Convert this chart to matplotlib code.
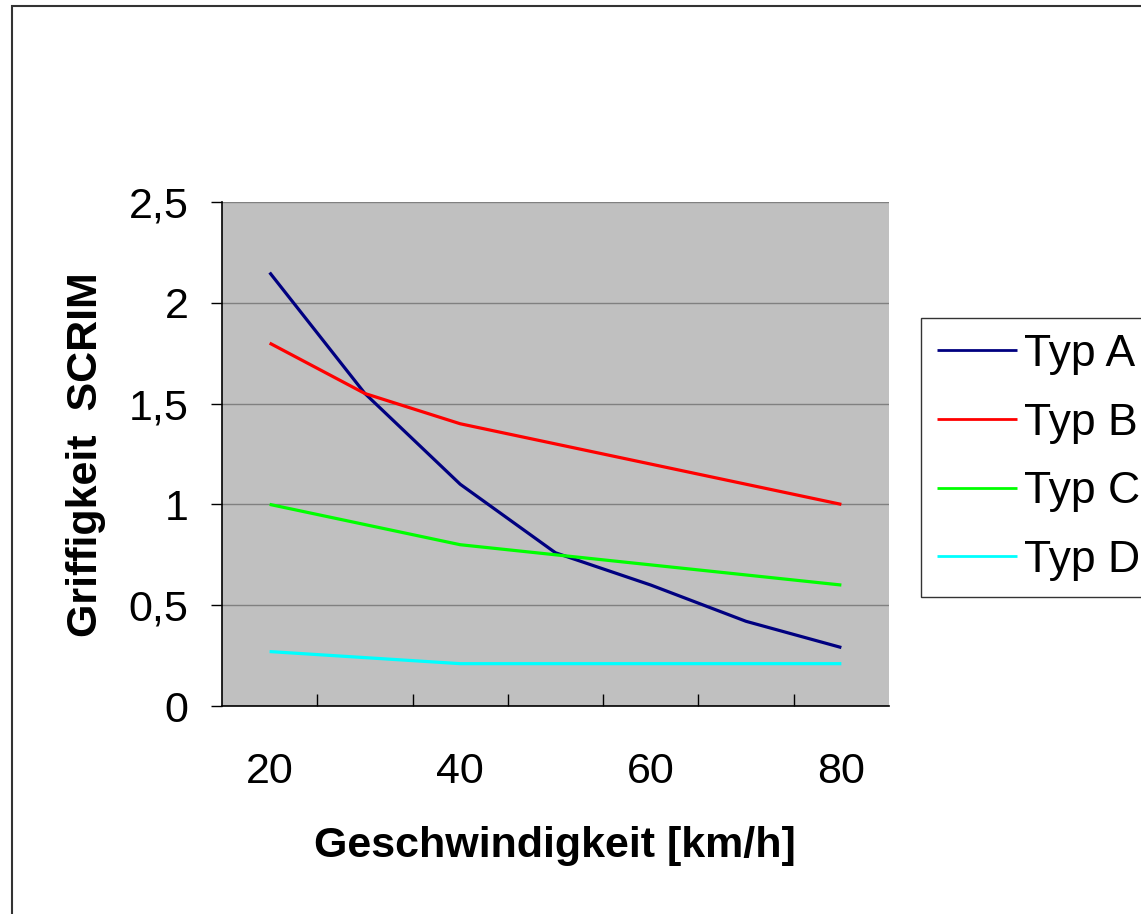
import matplotlib
matplotlib.use("Agg")
import matplotlib.pyplot as plt
from matplotlib.patches import Rectangle

plt.rcParams['font.family'] = ['Liberation Sans', 'DejaVu Sans']

# data (speed categories in km/h)
speeds = [20, 30, 40, 50, 60, 70, 80]
typ_a = [2.15, 1.55, 1.10, 0.76, 0.60, 0.42, 0.29]
typ_b = [1.80, 1.55, 1.40, 1.30, 1.20, 1.10, 1.00]
typ_c = [1.00, 0.90, 0.80, 0.75, 0.70, 0.65, 0.60]
typ_d = [0.27, 0.24, 0.21, 0.21, 0.21, 0.21, 0.21]
series_names = ['Typ A', 'Typ B', 'Typ C', 'Typ D']
colors = ['#000080', '#FF0000', '#00FF00', '#00FFFF']
y_ticks = [0, 0.5, 1, 1.5, 2, 2.5]
y_ticklabels = ['0', '0,5', '1', '1,5', '2', '2,5']
x_labelled = [20, 40, 60, 80]

fig = plt.figure(figsize=(11.41, 9.14), dpi=100)
ax = fig.add_axes([222/1141, 1 - 706/914, (889 - 222)/1141, (706 - 202)/914])
ax.set_facecolor('#C0C0C0')

x = list(range(len(speeds)))
for vals, name, c in zip([typ_a, typ_b, typ_c, typ_d], series_names, colors):
    ax.plot(x, vals, color=c, lw=2.3, label=name, solid_capstyle='butt')

ax.set_xlim(-0.5, len(speeds) - 0.5)
ax.set_ylim(0, 2.5)

ax.set_yticks(y_ticks)
ax.set_yticklabels(y_ticklabels)
ax.yaxis.grid(True, color='#808080', lw=1)
ax.set_axisbelow(True)

pos = [speeds.index(v) for v in x_labelled]
ax.set_xticks(pos)
ax.set_xticklabels([str(v) for v in x_labelled])
ax.set_xticks([i + 0.5 for i in range(len(speeds) - 1)], minor=True)
ax.tick_params(axis='x', which='major', length=0, pad=33, labelsize=31)
ax.tick_params(axis='x', which='minor', direction='in', length=9, width=1, color='black')
ax.tick_params(axis='y', direction='out', length=8, width=1, pad=16, labelsize=31)

for s in ['top', 'right']:
    ax.spines[s].set_visible(False)
for s in ['left', 'bottom']:
    ax.spines[s].set_color('black')
    ax.spines[s].set_linewidth(1.2)

fig.text(555/1141, 1 - 846/914, 'Geschwindigkeit [km/h]', ha='center', va='center',
         fontsize=31, fontweight='bold')
fig.text(86/1141, 1 - 455/914, 'Griffigkeit  SCRIM', ha='center', va='center',
         rotation=90, fontsize=31, fontweight='bold')

leg = fig.legend(loc='upper left', bbox_to_anchor=(921/1141, 1 - 318/914),
                 fontsize=32, frameon=True, fancybox=False, handlelength=1.8,
                 handletextpad=0.15, labelspacing=0.62, borderpad=0.36, borderaxespad=0)
leg.get_frame().set_edgecolor('black')
leg.get_frame().set_linewidth(1)
for h in leg.get_lines():
    h.set_linewidth(2)

fig.patches.append(Rectangle((12/1141, -0.05), 1.1, 1.05 - 6/914, transform=fig.transFigure,
                             fill=False, edgecolor='#333333', lw=1.5))

fig.savefig('out.png', dpi=100)
